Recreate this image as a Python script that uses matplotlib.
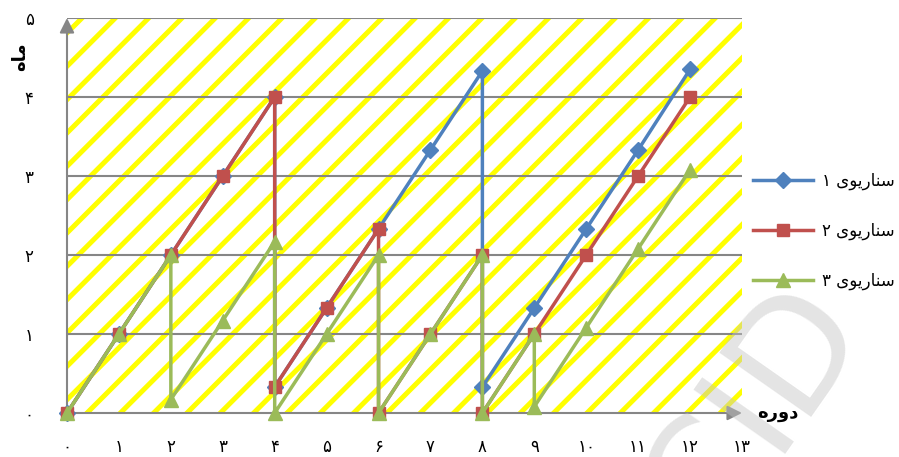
import matplotlib
matplotlib.use("Agg")
import matplotlib.pyplot as plt
from matplotlib.patches import Rectangle

plt.rcParams["font.family"] = ["DejaVu Sans"]
plt.rcParams["hatch.linewidth"] = 3.6

# data (x = period, y = month)
x1 = [0, 1, 2, 3, 4, 4, 5, 6, 7, 8, 8, 9, 10, 11, 12]
y1 = [0, 1, 2, 3, 4, 0.33, 1.33, 2.33, 3.33, 4.33, 0.33, 1.33, 2.33, 3.33, 4.35]
x2 = [0, 1, 2, 3, 4, 4, 5, 6, 6, 7, 8, 8, 9, 10, 11, 12]
y2 = [0, 1, 2, 3, 4, 0.33, 1.33, 2.33, 0, 1, 2, 0, 1, 2, 3, 4]
x3 = [0, 1, 2, 2, 3, 4, 4, 5, 6, 6, 7, 8, 8, 9, 9, 10, 11, 12]
y3 = [0, 1, 2, 0.17, 1.17, 2.17, 0, 1, 2, 0, 1, 2, 0, 1, 0.08, 1.08, 2.08, 3.08]

# Persian digits and pre-shaped labels (glyphs in visual left-to-right order)
digits = "۰۱۲۳۴۵۶۷۸۹"
x_ticks = list(range(14))
y_ticks = list(range(6))
series_word = "\ufeef\ufeee\ufef3\ufead\ufe8e\ufee8\ufeb3"   # سناریوی
labels = [digits[1] + " " + series_word,
          digits[2] + " " + series_word,
          digits[3] + " " + series_word]
xlabel = "\ufee9\ufead\ufeed\ufea9"   # دوره
ylabel = "\ufee9\ufe8e\ufee3"         # ماه


def fa(n):
    return "".join(digits[int(c)] for c in str(n))


GRAY = "#868686"
BLUE, RED, GREEN = "#4F81BD", "#C0504D", "#9BBB59"

fig = plt.figure(figsize=(8.99, 4.57), dpi=100)
ax = fig.add_axes([67 / 899, 1 - 413 / 457, 675 / 899, 395 / 457])
ax.set_xlim(0, 13)
ax.set_ylim(0, 5)

# striped background
ax.add_patch(Rectangle((0, 0), 1, 1, transform=ax.transAxes, facecolor="white",
                       edgecolor="#FFFF00", linewidth=0, hatch="/", zorder=0))
for y in y_ticks[1:]:
    ax.axhline(y, color=GRAY, lw=1.5, zorder=0.5)

for s in ax.spines.values():
    s.set_visible(False)
ax.annotate("", xy=(0, 5), xytext=(0, 0), annotation_clip=False,
            arrowprops=dict(arrowstyle="-|>", color=GRAY, lw=1.5, mutation_scale=22,
                            shrinkA=0, shrinkB=0))
ax.annotate("", xy=(13, 0), xytext=(0, 0), annotation_clip=False,
            arrowprops=dict(arrowstyle="-|>", color=GRAY, lw=1.5, mutation_scale=22,
                            shrinkA=0, shrinkB=0))

ax.plot(x1, y1, color=BLUE, lw=2.5, marker="D", ms=8, label=labels[0], clip_on=False, zorder=3)
ax.plot(x2, y2, color=RED, lw=2.5, marker="s", ms=9, label=labels[1], clip_on=False, zorder=4)
ax.plot(x3, y3, color=GREEN, lw=2.5, marker="^", ms=10, label=labels[2], clip_on=False, zorder=5)

ax.set_xticks(x_ticks)
ax.set_xticklabels([fa(v) for v in x_ticks], fontsize=12)
ax.set_yticks(y_ticks)
ax.set_yticklabels([fa(v) for v in y_ticks], fontsize=12)
ax.tick_params(axis="both", length=0)
ax.tick_params(axis="x", pad=18)
ax.tick_params(axis="y", pad=24)

fig.text(757 / 899, 1 - 413 / 457, xlabel, fontsize=13, fontweight="bold",
         ha="left", va="center", zorder=5)
fig.text(20 / 899, 1 - 57 / 457, ylabel, fontsize=13, fontweight="bold",
         rotation=90, ha="center", va="center", zorder=5)

ax.legend(loc="center left", bbox_to_anchor=(745 / 899, 1 - 231 / 457),
          bbox_transform=fig.transFigure, frameon=False, fontsize=12,
          handlelength=3.6, labelspacing=1.9, handletextpad=0.5, borderpad=0)

# faint watermark
fig.text(0.84, 0.10, "CID", fontsize=110, color="#C4C4C4", alpha=0.45,
         rotation=55, ha="center", va="center", zorder=1)

fig.savefig("out.png", dpi=100, facecolor="white")
